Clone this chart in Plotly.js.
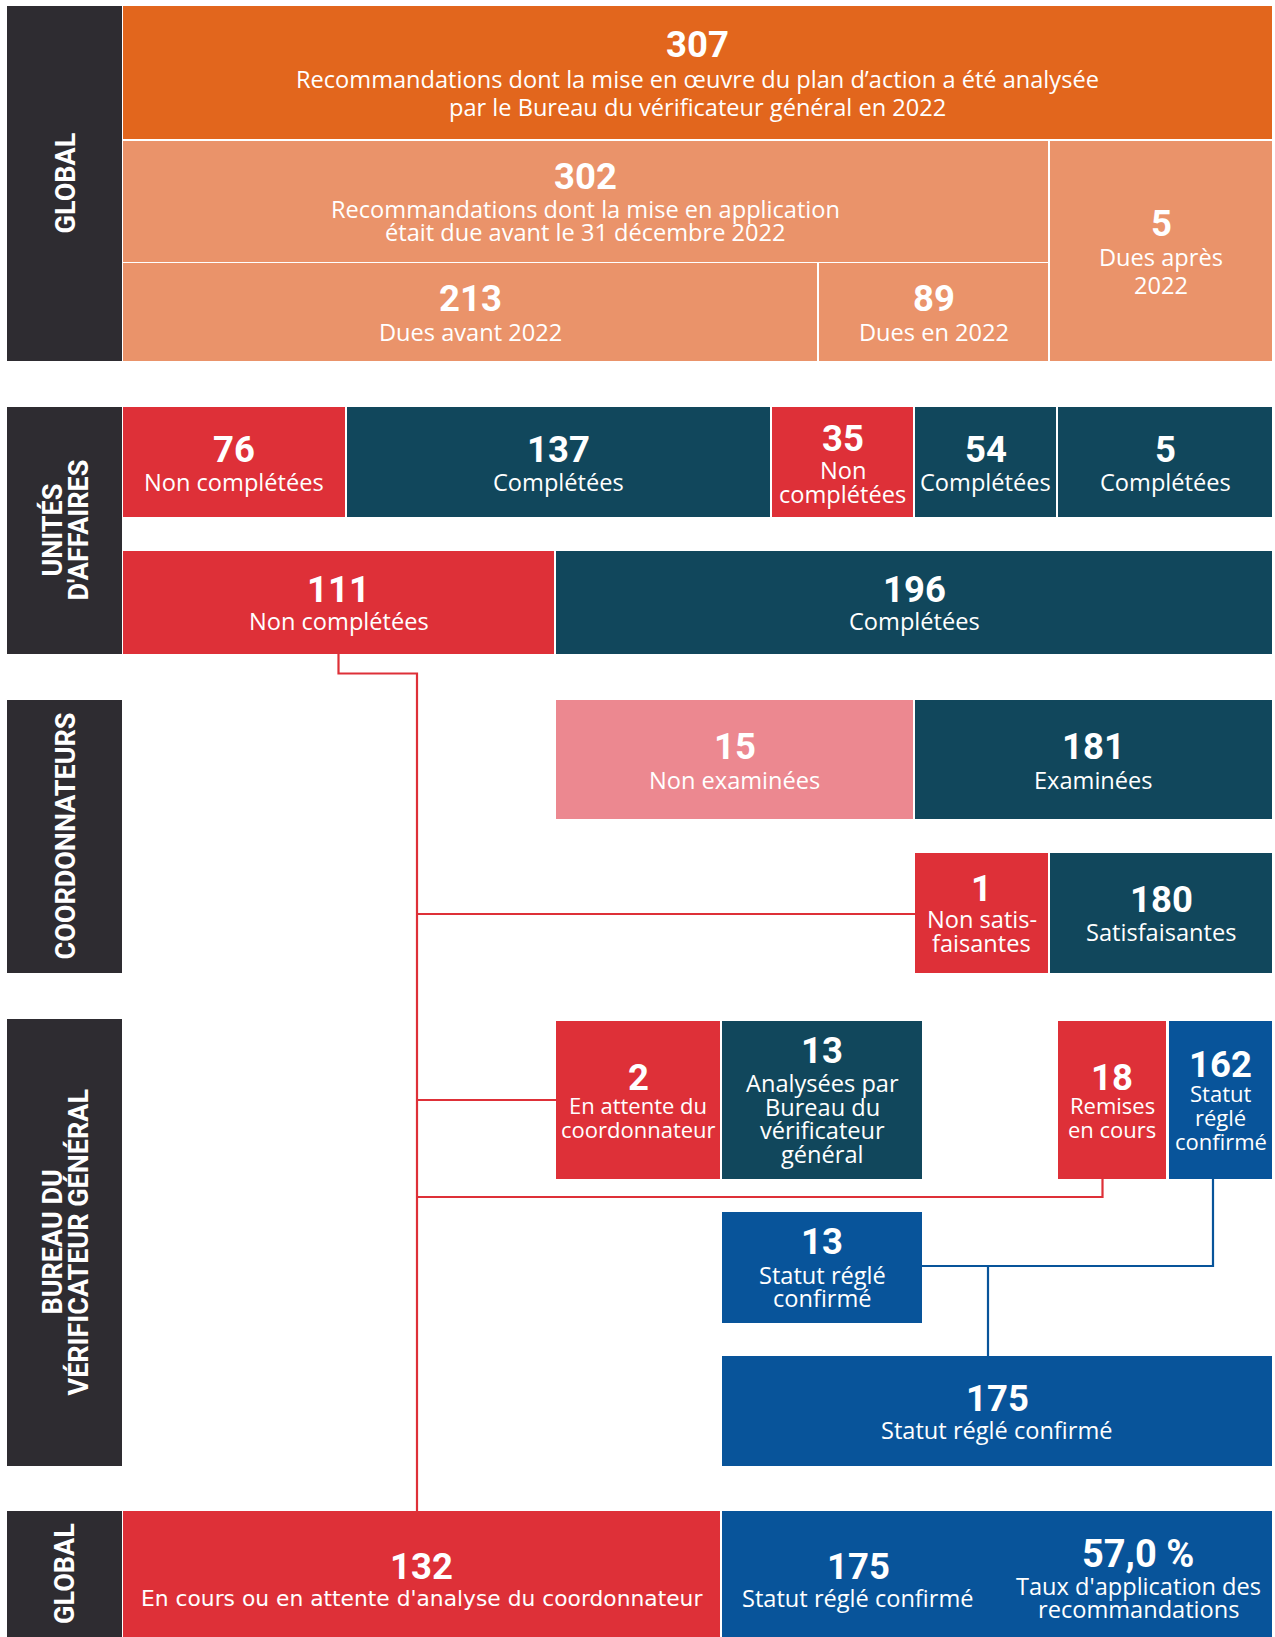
<!DOCTYPE html>
<html><head><meta charset="utf-8">
<script src="https://cdn.plot.ly/plotly-3.0.1.min.js"></script>
<style>html,body{margin:0;padding:0;background:#fff}#chart{width:1275px;height:1637px}</style>
</head><body><div id="chart"></div>
<script>
// ---------------- DATA ----------------
const sectionNames = [['GLOBAL'], ['UNITÉS', "D'AFFAIRES"], ['COORDONNATEURS'], ['BUREAU DU', 'VÉRIFICATEUR GÉNÉRAL'], ['GLOBAL']];

const boxIds = ['tot','due','after','before','in2022','nc76','c137','nc35','c54','c5','nc111','c196','ne15','ex181','ns1','s180','att2','an13','rem18','st162','st13','st175','g132','g175'];
const boxValues = ['307','302','5','213','89','76','137','35','54','5','111','196','15','181','1','180','2','13','18','162','13','175','132','175'];
const boxLabels = [
  ['Recommandations dont la mise en œuvre du plan d’action a été analysée','par le Bureau du vérificateur général en 2022'],
  ['Recommandations dont la mise en application','était due avant le 31 décembre 2022'],
  ['Dues après','2022'],
  ['Dues avant 2022'],
  ['Dues en 2022'],
  ['Non complétées'],
  ['Complétées'],
  ['Non','complétées'],
  ['Complétées'],
  ['Complétées'],
  ['Non complétées'],
  ['Complétées'],
  ['Non examinées'],
  ['Examinées'],
  ['Non satis-','faisantes'],
  ['Satisfaisantes'],
  ['En attente du','coordonnateur'],
  ['Analysées par','Bureau du','vérificateur','général'],
  ['Remises','en cours'],
  ['Statut','réglé','confirmé'],
  ['Statut réglé','confirmé'],
  ['Statut réglé confirmé'],
  ["En cours ou en attente d'analyse du coordonnateur"],
  ['Statut réglé confirmé']
];
const boxKinds = ['total','due','due','due','due','nc','c','nc','c','c','nc','c','ne','c','nc','c','nc','c','nc','ok','ok','ok','nc','ok'];
const rateValue = '57,0 %';
const rateLabel = ["Taux d'application des", 'recommandations'];

// ---------------- LAYOUT GEOMETRY (page px) ----------------
const sectionBands = [[6,361],[407,654],[700,973],[1019,1466],[1511,1637]];
const boxRects = {
  tot:[123,1272,6,139], due:[123,1048,141,262], after:[1050,1272,141,361],
  before:[123,817,263,361], in2022:[819,1048,263,361],
  nc76:[123,345,407,517], c137:[347,770,407,517], nc35:[772,913,407,517], c54:[915,1056,407,517], c5:[1058,1272,407,517],
  nc111:[123,554,551,654], c196:[556,1272,551,654],
  ne15:[556,913,700,819], ex181:[915,1272,700,819],
  ns1:[915,1048,853,973], s180:[1050,1272,853,973],
  att2:[556,720,1021,1179], an13:[722,922,1021,1179], rem18:[1058,1166,1021,1179], st162:[1169,1272,1021,1179],
  st13:[722,922,1212,1323], st175:[722,1272,1356,1466],
  g132:[123,720,1511,1637], g175:[722,1272,1511,1637]
};
// [number y, first label line y, line height, optional center x]
const textPos = {
  tot:[44,79,28], due:[176,209,23], after:[223,257,28], before:[298,332,24], in2022:[298,332,24],
  nc76:[449,482,24], c137:[449,482,24], nc35:[438,470,24], c54:[449,482,24], c5:[449,482,24],
  nc111:[589,621,24], c196:[589,621,24], ne15:[746,780,24], ex181:[746,780,24],
  ns1:[888,919,24], s180:[899,932,24], att2:[1077,1105,24], an13:[1050,1083,23.7],
  rem18:[1077,1105,24], st162:[1064,1093,24], st13:[1241,1275,23], st175:[1398,1430,24],
  g132:[1566,1598,24], g175:[1566,1598,24,858]
};
const ratePos = [1554,1586,23,1138];
const condensedBoxes = ['att2','rem18','st162'];
const colors = {total:'#E2661D', due:'#EA936A', nc:'#DE3038', c:'#11475C', ne:'#EC8890', ok:'#08549A', band:'#2E2C31'};
const redRoutes = [
  [[338.5,654],[338.5,673.5],[417,673.5],[417,1511]],
  [[417,914],[915,914]],
  [[417,1100],[556,1100]],
  [[417,1197],[1102.5,1197],[1102.5,1179]]
];
const blueRoutes = [
  [[1213,1179],[1213,1266],[922,1266]],
  [[988,1266],[988,1356]]
];

// ---------------- BUILD ----------------
const shapes = [];
const annotations = [];
const NUMFONT = 'Roboto, sans-serif', LABFONT = '"Open Sans", sans-serif';

sectionBands.forEach((b, i) => {
  shapes.push({type:'rect', xref:'x', yref:'y', x0:7, x1:122, y0:b[0], y1:b[1], fillcolor:colors.band, line:{width:0}, layer:'below'});
  const lines = sectionNames[i];
  const cy = (b[0] + b[1]) / 2;
  const xs = lines.length === 1 ? [65] : [52, 78];
  lines.forEach((t, j) => {
    annotations.push({x:xs[j], y:cy, xref:'x', yref:'y', text:t, showarrow:false, textangle:-90,
      xanchor:'center', yanchor:'middle', font:{family:NUMFONT, size:27, weight:700, color:'#fff'}});
  });
});

boxIds.forEach((id, i) => {
  const r = boxRects[id];
  shapes.push({type:'rect', xref:'x', yref:'y', x0:r[0], x1:r[1], y0:r[2], y1:r[3], fillcolor:colors[boxKinds[i]], line:{width:0}, layer:'below'});
  const p = textPos[id];
  const cx = p[3] !== undefined ? p[3] : (r[0] + r[1]) / 2;
  const big = id === 'g132';
  const labSize = big ? 21.8 : (condensedBoxes.includes(id) ? 22 : 23.6);
  annotations.push({x:cx, y:p[0], xref:'x', yref:'y', text:boxValues[i], showarrow:false, xanchor:'center', yanchor:'middle',
    font:{family:NUMFONT, size:36.5, weight:700, color:'#fff'}});
  boxLabels[i].forEach((t, j) => {
    annotations.push({x:cx, y:p[1] + j * p[2], xref:'x', yref:'y', text:t, showarrow:false, xanchor:'center', yanchor:'middle',
      font:{family: big ? '"DejaVu Sans", sans-serif' : LABFONT, size:labSize, color:'#fff'}});
  });
});
annotations.push({x:ratePos[3], y:ratePos[0], xref:'x', yref:'y', text:rateValue, showarrow:false, xanchor:'center', yanchor:'middle',
  font:{family:NUMFONT, size:38, weight:700, color:'#fff'}});
rateLabel.forEach((t, j) => {
  annotations.push({x:ratePos[3], y:ratePos[1] + j * ratePos[2], xref:'x', yref:'y', text:t, showarrow:false, xanchor:'center', yanchor:'middle',
    font:{family:LABFONT, size:23.6, color:'#fff'}});
});

const traces = [];
function addRoutes(routes, color) {
  routes.forEach(rt => {
    traces.push({type:'scatter', mode:'lines', x:rt.map(p => p[0]), y:rt.map(p => p[1]),
      line:{color:color, width:2.2}, hoverinfo:'skip', showlegend:false});
  });
}
addRoutes(redRoutes, colors.nc);
addRoutes(blueRoutes, colors.ok);

const layout = {
  width:1275, height:1637, margin:{l:0, r:0, t:0, b:0},
  paper_bgcolor:'#fff', plot_bgcolor:'#fff', showlegend:false,
  xaxis:{range:[0,1275], visible:false, fixedrange:true},
  yaxis:{range:[1637,0], visible:false, fixedrange:true},
  shapes:shapes, annotations:annotations
};
Plotly.newPlot('chart', traces, layout, {displayModeBar:false, staticPlot:true});
</script>
</body></html>
